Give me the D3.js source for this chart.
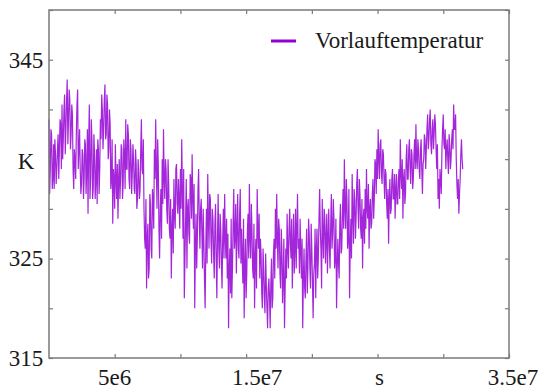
<!DOCTYPE html>
<html><head><meta charset="utf-8">
<script src="https://cdn.jsdelivr.net/npm/d3@7"></script>
<style>
html,body{margin:0;padding:0;background:#fff;}
svg{display:block;}
svg text{font-family:"Liberation Serif",serif !important;}
</style></head>
<body>
<script>
// ---- data ----
const seriesName = "Vorlauftemperatur";
const sampleInterval = 49500;   // seconds between samples
// samples at even positions
const tempEven = [
339,334,337.5,333,332,335.5,334,337.5,336,338.5,
340.5,337,341.5,338,343,339,341,337.5,339.5,332,
335,337.5,342,336,334,332.5,335.5,333,336.5,334,
329.5,340.5,333,337,332,335.5,333,330.5,336,334,
337,340,338,342.5,337.5,340.5,336,338.5,333,328.5,
333,336.5,331,329,335,333,336,332.5,335.5,339,
334,337.5,332,336,333.5,335,331.5,334.5,331,333.5,
332,339,333.5,330,326,322,328.5,324,330.5,325,
331,336,339,330,334.5,325,332,335,338,331,
334,328.5,332.5,327,323,330,333,328,334.5,329.5,
331,334,337,327,321,329,324,331,326.5,333,
335.5,328,320,329.5,327,334,326,331,324,327,
320,330,333.5,326,331,324.5,329,323,330.5,321,
331.5,324,328,322,330,331.5,325,323,318,326,
329,324,332,327,323.5,331.5,325,332,328,322.5,
319,327,323.5,329.5,332.5,325,328,323,320,327,
332,326,323,325.5,320,324,319.5,322.5,318,323,
318,325,321,327,330,331.5,324,328,322,326,
323,318,326,329.5,324,330,325,322,329.5,326,
324,331.5,327,329,323,318,326,321,328,324,
327.5,322,326,319,324.5,321,328,325,332,326,
331,325,329,327,323.5,330,324,331.5,327.5,329,
325,320,327,323,330.5,326,332,335,328,331,
327,321,329,333.5,326.5,331,329,334,328,331.5,
327,324,330,332,334,329,326,331,328.5,333,
331,334.5,336,338,333,337,332.5,335.5,331,333.5,
329,326.5,333,330,334,331,329,333.5,330.5,334,
337,332,329,334,331.5,336.5,333,337,332.5,335.5,
333,337,338.5,334,336,333,337,331.5,335,337,
336,339.5,337,340,335.5,339,337.5,338.5,334,331,
330,333,336,339.5,336,334,337,333.5,336.5,335,
338,340.5,338,335,331,329.5,333,337,334
];
// samples at odd positions (between the even ones)
const tempOdd = [
331.5,338,332,336.5,337,332.5,336,333,339,334,
335,340,335.5,341,336.5,342,336,340.5,334,336,
333,340.5,334,338,331.5,336,331,337,331.5,338,
337,331,339,331,337.5,331,336,337,331.5,339,
341.5,336,341,337,341.5,335,340,332,337,334,
330,333,334.5,333,331,336.5,331,337,332,334,
338.5,333,337,331.5,336.5,332,336,330,335,331,
336,334,337,327,331,327,323,331.5,326,332,
328,333,334,337,328,330,327,330.5,333,335,
330,335,328,331,328,325.5,329.5,334,330.5,333,
328,330,332,334,325,333,330,327.5,333.5,329,
331,332.5,326,324,332,329,330,327.5,330,323,
326,324.5,329,331.5,327,330,325.5,328.5,325,327,
326,329.5,324.5,327,325,327,329,327.5,324,321.5,
321,328.5,326,330.5,328,326,329.5,324.5,325,329,
324,321,328,325,327,330.5,324,328.5,325,322,
328,329.5,327,321.5,326,321,325.5,320,322,321,
322.5,320,325.5,323,326,327,329,323.5,328,320.5,
327,322,323,326,328,326.5,329,326,323.5,330,
328,326,323.5,326,327,323,322,325,321.5,329,
324,328.5,322.5,323.5,328,326,323,329,328,322,
327.5,330,324.5,329.5,327,326,328.5,326,331,324,
329,324,324.5,328.5,325.5,329.5,328,330,333,326,
332,326,325,329.5,332,327,332.5,330,333,328,
331,329,326.5,328,330,332.5,330,328,331.5,329,
335,331.5,333,335,336.5,333.5,336,333,334,330.5,
332,331,329.5,333,331,333.5,332,330.5,333,331,
333.5,335,333,330.5,335,333,336,334,336,332,
335.5,334,335,337,334,336,334,334.5,337.5,334,
338,336,339,336.5,338,336,339.5,336,336.5,333,
334,331.5,338,336.5,338,336,335,337.5,334,337,
336,338,339.5,332.5,333,331.5,335.5,335
];
const xDomain = [0, 3.5e7];
const yDomain = [315, 350];
const xTickValues = [5e6, 1e7, 1.5e7, 2e7, 2.5e7, 3e7, 3.5e7];
const xTickLabels = {5e6:"5e6", 1.5e7:"1.5e7", 2.5e7:"s", 3.5e7:"3.5e7"};
const yTickValues = [315, 320, 325, 330, 335, 340, 345, 350];
const yTickLabels = {315:"315", 325:"325", 335:"K", 345:"345"};

// ---- layout ----
const W = 539, H = 390;
const L = 49, R = 509, T = 10, B = 358;
const color = "#9400d3";
const frameColor = "#7a7a7a";
const fontFam = "Liberation Serif";
const fontSize = 23;

const svg = d3.select("body").append("svg").attr("width", W).attr("height", H)
  .attr("font-family", fontFam);
const x = d3.scaleLinear().domain(xDomain).range([L, R]);
const y = d3.scaleLinear().domain(yDomain).range([B, T]);

const data = [];
tempEven.forEach((v, i) => {
  data.push({t: (2 * i) * sampleInterval, v});
  if (i < tempOdd.length) data.push({t: (2 * i + 1) * sampleInterval, v: tempOdd[i]});
});

svg.append("path")
  .datum(data)
  .attr("fill", "none")
  .attr("stroke", color)
  .attr("stroke-width", 1.2)
  .attr("stroke-opacity", 0.85)
  .attr("d", d3.line().x(d => x(d.t)).y(d => y(d.v)));

// axes (ticks inward, labels custom)
const tickLen = 4;
const gB = svg.append("g").attr("transform", `translate(0,${B})`)
  .call(d3.axisBottom(x).tickValues(xTickValues).tickSizeInner(-tickLen).tickSizeOuter(0).tickFormat(""));
const gT = svg.append("g").attr("transform", `translate(0,${T})`)
  .call(d3.axisTop(x).tickValues(xTickValues).tickSizeInner(-tickLen).tickSizeOuter(0).tickFormat(""));
const gL = svg.append("g").attr("transform", `translate(${L},0)`)
  .call(d3.axisLeft(y).tickValues(yTickValues).tickSizeInner(-tickLen).tickSizeOuter(0).tickFormat(""));
const gR = svg.append("g").attr("transform", `translate(${R},0)`)
  .call(d3.axisRight(y).tickValues(yTickValues).tickSizeInner(-tickLen).tickSizeOuter(0).tickFormat(""));
[gB, gT, gL, gR].forEach(g => {
  g.select(".domain").remove();
  g.selectAll("line").attr("stroke", frameColor).attr("stroke-width", 1.2);
});

svg.append("rect").attr("x", L).attr("y", T).attr("width", R - L).attr("height", B - T)
  .attr("fill", "none").attr("stroke", frameColor).attr("stroke-width", 1.5);

const xLabelNudge = {1.5e7: 11, 3.5e7: 4, 2.5e7: 2};
svg.append("g").selectAll("text")
  .data(xTickValues.filter(v => xTickLabels[v] !== undefined))
  .join("text")
  .attr("x", v => x(v) + (xLabelNudge[v] || 0))
  .attr("y", 385)
  .attr("text-anchor", "middle")
  .attr("font-size", fontSize)
  .style("font-family", fontFam)
  .attr("fill", "#1a1a1a")
  .text(v => xTickLabels[v]);

svg.append("g").selectAll("text")
  .data(yTickValues.filter(v => yTickLabels[v] !== undefined))
  .join("text")
  .attr("x", 26)
  .attr("y", v => y(v))
  .attr("dy", v => v === 335 ? "0.42em" : "0.34em")
  .attr("text-anchor", "middle")
  .attr("font-size", fontSize)
  .style("font-family", fontFam)
  .attr("fill", "#1a1a1a")
  .text(v => yTickLabels[v]);

// legend
svg.append("line").attr("x1", 271).attr("x2", 296).attr("y1", 41).attr("y2", 41)
  .attr("stroke", color).attr("stroke-width", 3);
svg.append("text").attr("x", 315).attr("y", 48)
  .attr("font-size", fontSize).style("font-family", fontFam).attr("fill", "#1a1a1a")
  .text(seriesName);
</script>
</body></html>
